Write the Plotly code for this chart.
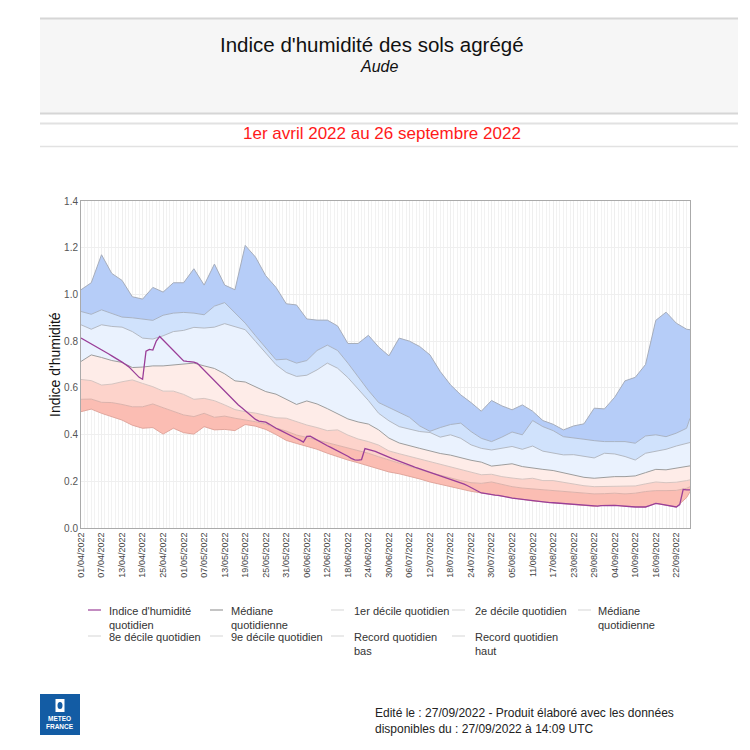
import pandas as pd
import plotly.graph_objects as go

# ---------------- DATA ----------------
# band series sampled every 3 days from 01/04/2022 (+ 26/09/2022)
dates3 = list(pd.date_range("2022-04-01", "2022-09-25", freq="3D")) + [pd.Timestamp("2022-09-26")]
daily = list(pd.date_range("2022-04-01", "2022-09-26", freq="D"))

record_haut = [1.02,1.05,1.17,1.09,1.06,0.99,0.98,1.03,1.01,1.05,
               1.05,1.11,1.04,1.13,1.04,1.02,1.21,1.16,1.08,1.03,
               0.96,0.955,0.895,0.89,0.89,0.865,0.79,0.79,0.825,0.775,
               0.737,0.813,0.80,0.777,0.741,0.67,0.613,0.57,0.537,0.50,
               0.546,0.523,0.506,0.527,0.50,0.46,0.444,0.42,0.437,0.446,
               0.513,0.51,0.56,0.63,0.645,0.70,0.889,0.924,0.877,0.851,
               0.849]
decile9 = [0.927,0.915,0.934,0.917,0.903,0.90,0.894,0.889,0.911,0.92,
           0.923,0.92,0.913,0.95,0.965,0.92,0.877,0.823,0.77,0.72,
           0.723,0.706,0.717,0.76,0.783,0.76,0.706,0.646,0.589,0.537,
           0.517,0.497,0.474,0.437,0.414,0.43,0.443,0.449,0.413,0.384,
           0.37,0.389,0.411,0.399,0.46,0.434,0.417,0.391,0.384,0.38,
           0.374,0.37,0.37,0.37,0.363,0.394,0.399,0.391,0.406,0.427,
           0.47]
decile8 = [0.87,0.851,0.87,0.863,0.86,0.841,0.813,0.809,0.823,0.841,
           0.846,0.859,0.856,0.86,0.875,0.863,0.849,0.799,0.749,0.699,
           0.666,0.649,0.654,0.677,0.706,0.684,0.644,0.594,0.546,0.491,
           0.459,0.434,0.423,0.413,0.409,0.389,0.399,0.384,0.356,0.341,
           0.334,0.341,0.349,0.337,0.351,0.329,0.32,0.313,0.314,0.306,
           0.30,0.32,0.317,0.306,0.291,0.32,0.327,0.337,0.351,0.363,
           0.366]
mediane = [0.713,0.741,0.73,0.717,0.709,0.687,0.689,0.694,0.694,0.699,
           0.701,0.706,0.694,0.683,0.66,0.63,0.625,0.605,0.584,0.573,
           0.552,0.529,0.544,0.531,0.511,0.488,0.467,0.454,0.445,0.42,
           0.385,0.364,0.351,0.341,0.33,0.319,0.312,0.30,0.29,0.282,
           0.265,0.27,0.275,0.263,0.256,0.251,0.246,0.237,0.229,0.217,
           0.213,0.217,0.22,0.22,0.223,0.237,0.251,0.249,0.256,0.263,
           0.266]
decile2 = [0.636,0.631,0.612,0.616,0.626,0.634,0.619,0.605,0.586,0.586,
           0.572,0.551,0.555,0.545,0.527,0.507,0.498,0.492,0.482,0.472,
           0.47,0.455,0.441,0.43,0.417,0.42,0.398,0.381,0.37,0.355,
           0.33,0.318,0.307,0.295,0.283,0.272,0.262,0.252,0.238,0.228,
           0.23,0.22,0.214,0.209,0.213,0.203,0.203,0.196,0.187,0.181,
           0.177,0.177,0.18,0.18,0.18,0.189,0.197,0.194,0.196,0.203,
           0.206]
decile1 = [0.551,0.552,0.538,0.537,0.529,0.519,0.519,0.531,0.515,0.501,
           0.484,0.477,0.491,0.474,0.479,0.47,0.463,0.455,0.445,0.428,
           0.415,0.398,0.388,0.377,0.364,0.354,0.341,0.33,0.32,0.305,
           0.291,0.277,0.263,0.251,0.237,0.226,0.214,0.203,0.194,0.191,
           0.197,0.186,0.177,0.171,0.167,0.164,0.16,0.156,0.151,0.149,
           0.146,0.147,0.149,0.146,0.149,0.156,0.16,0.16,0.161,0.17,
           0.177]
record_bas = [0.498,0.509,0.491,0.477,0.462,0.44,0.427,0.43,0.402,0.427,
              0.408,0.402,0.434,0.42,0.422,0.417,0.443,0.436,0.422,0.40,
              0.375,0.362,0.35,0.337,0.32,0.305,0.291,0.279,0.266,0.252,
              0.24,0.232,0.222,0.21,0.197,0.188,0.176,0.167,0.157,0.15,
              0.143,0.138,0.128,0.122,0.116,0.112,0.108,0.104,0.10,0.096,
              0.093,0.097,0.097,0.093,0.09,0.09,0.105,0.098,0.09,0.13,
              0.155]
# daily soil wetness index
indice = [0.813,0.805,0.797,0.788,0.78,0.772,0.764,0.755,0.746,0.737,
          0.729,0.72,0.71,0.70,0.69,0.675,0.66,0.645,0.637,0.757,
          0.765,0.762,0.80,0.82,0.805,0.79,0.775,0.76,0.745,0.73,
          0.715,0.713,0.713,0.71,0.705,0.69,0.675,0.66,0.645,0.63,
          0.614,0.60,0.585,0.568,0.555,0.54,0.527,0.515,0.503,0.491,
          0.478,0.465,0.458,0.456,0.453,0.445,0.435,0.427,0.42,0.412,
          0.405,0.398,0.39,0.383,0.376,0.368,0.392,0.393,0.385,0.376,
          0.368,0.36,0.352,0.345,0.338,0.33,0.322,0.315,0.307,0.298,
          0.292,0.291,0.293,0.34,0.337,0.333,0.328,0.322,0.315,0.308,
          0.302,0.297,0.292,0.287,0.282,0.276,0.27,0.264,0.258,0.253,
          0.248,0.242,0.237,0.232,0.228,0.223,0.218,0.213,0.209,0.204,
          0.20,0.194,0.188,0.181,0.174,0.166,0.158,0.15,0.148,0.145,
          0.143,0.141,0.14,0.138,0.135,0.131,0.128,0.126,0.124,0.122,
          0.12,0.118,0.116,0.115,0.113,0.112,0.111,0.109,0.108,0.107,
          0.105,0.104,0.103,0.101,0.10,0.099,0.097,0.096,0.095,0.094,
          0.093,0.094,0.096,0.097,0.097,0.097,0.097,0.096,0.094,0.093,
          0.092,0.091,0.09,0.09,0.09,0.09,0.095,0.10,0.105,0.103,
          0.10,0.098,0.095,0.092,0.09,0.10,0.165,0.163,0.163]

tick_labels = ["01/04/2022","07/04/2022","13/04/2022","19/04/2022","25/04/2022",
               "01/05/2022","07/05/2022","13/05/2022","19/05/2022","25/05/2022",
               "31/05/2022","06/06/2022","12/06/2022","18/06/2022","24/06/2022",
               "30/06/2022","06/07/2022","12/07/2022","18/07/2022","24/07/2022",
               "30/07/2022","05/08/2022","11/08/2022","17/08/2022","23/08/2022",
               "29/08/2022","04/09/2022","10/09/2022","16/09/2022","22/09/2022"]
tick_vals = list(pd.to_datetime(tick_labels, format="%d/%m/%Y"))

legend_labels = ["Indice d'humidité<br>quotidien", "Médiane<br>quotidienne",
                 "1er décile quotidien", "2e décile quotidien", "Médiane<br>quotidienne",
                 "8e décile quotidien", "9e décile quotidien",
                 "Record quotidien<br>bas", "Record quotidien<br>haut"]

# ---------------- STYLE ----------------
FONT = "Liberation Sans, Arial, sans-serif"
PURPLE = "#9a3e98"
OFF = 8  # page body margin
FIG = 742
L, R, T, B = 81, 690, 201, 528  # plot area in page pixels
W, H = R - L, B - T


def px(x):
    return (x - L) / W


def py(y):
    return (B - y) / H


fig = go.Figure()

bands = [
    (record_bas, "rgba(222,160,150,0.9)", None),
    (decile1, "#dcb2ab", "#fbbdb3"),
    (decile2, "#d6c4c0", "#fdd3cb"),
    (mediane, "#9d9d9d", "#feece8"),
    (decile8, "#b3b9c3", "#eaf2fe"),
    (decile9, "#a9b3c4", "#d0e2fc"),
    (record_haut, "#a6adbb", "#b6cdf8"),
]
for vals, lc, fc in bands:
    fig.add_trace(go.Scatter(
        x=dates3, y=vals, mode="lines",
        line=dict(color=lc, width=1),
        fill="tonexty" if fc else None,
        fillcolor=fc, showlegend=False, hoverinfo="skip"))

fig.add_trace(go.Scatter(x=daily, y=indice, mode="lines",
                         line=dict(color=PURPLE, width=1.3),
                         showlegend=False, hoverinfo="skip"))

# ---------------- DECORATIONS ----------------
shapes = []
ann = []
# header box
shapes.append(dict(type="rect", xref="paper", yref="paper", x0=px(40), x1=px(738),
                   y0=py(113), y1=py(18), fillcolor="#f6f6f6", line=dict(width=0), layer="below"))
for yy, col, wd in [(18.5, "#d6d6d6", 2), (113.5, "#d6d6d6", 2), (123.5, "#e2e2e2", 2), (146.5, "#e2e2e2", 1.5)]:
    shapes.append(dict(type="line", xref="paper", yref="paper", x0=px(40), x1=px(738),
                       y0=py(yy), y1=py(yy), line=dict(color=col, width=wd)))

ann.append(dict(text="Indice d'humidité des sols agrégé", x=px(372), y=py(44), xref="paper", yref="paper",
                showarrow=False, font=dict(family=FONT, size=20.5, color="#111"), xanchor="center", yanchor="middle"))
ann.append(dict(text="<i>Aude</i>", x=px(379), y=py(67), xref="paper", yref="paper",
                showarrow=False, font=dict(family=FONT, size=16, color="#111"), xanchor="center", yanchor="middle"))
ann.append(dict(text="1er avril 2022 au 26 septembre 2022", x=px(382), y=py(134), xref="paper", yref="paper",
                showarrow=False, font=dict(family=FONT, size=17, color="#ff1a1a"), xanchor="center", yanchor="middle"))
ann.append(dict(text="Indice d'humidité", x=px(55), y=py(365), xref="paper", yref="paper", textangle=-90,
                showarrow=False, font=dict(family=FONT, size=14, color="#111"), xanchor="center", yanchor="middle"))

# legend (manual)
leg_colors = [PURPLE, "#9d9d9d"] + ["#dcdcdc"] * 7
col_line_x = [88, 210, 331, 452, 578]
col_text_x = [107, 229, 352, 473, 596]
row_y = [610, 636]
for i, (lab, c) in enumerate(zip(legend_labels, leg_colors)):
    r, k = divmod(i, 5)
    yy = row_y[r]
    shapes.append(dict(type="line", xref="paper", yref="paper",
                       x0=px(col_line_x[k]), x1=px(col_line_x[k] + 13), y0=py(yy), y1=py(yy),
                       line=dict(color=c, width=1.2)))
    ann.append(dict(text=lab, x=px(col_text_x[k]), y=py(yy - 7), xref="paper", yref="paper",
                    showarrow=False, align="left", xanchor="left", yanchor="top",
                    font=dict(family=FONT, size=11, color="#333")))

# footer
shapes.append(dict(type="rect", xref="paper", yref="paper", x0=px(40), x1=px(80),
                   y0=py(735), y1=py(694), fillcolor="#135ca4", line=dict(width=0)))
shapes.append(dict(type="rect", xref="paper", yref="paper", x0=px(55.5), x1=px(64.5),
                   y0=py(712), y1=py(699), fillcolor="white", line=dict(width=0)))
shapes.append(dict(type="circle", xref="paper", yref="paper", x0=px(57.5), x1=px(62.5),
                   y0=py(709), y1=py(702), fillcolor="#135ca4", line=dict(width=0)))
ann.append(dict(text="<b>METEO<br>FRANCE</b>", x=px(60), y=py(722), xref="paper", yref="paper",
                showarrow=False, font=dict(family=FONT, size=6.5, color="white"), xanchor="center", yanchor="middle"))
ann.append(dict(text="Edité le : 27/09/2022 - Produit élaboré avec les données<br>disponibles du : 27/09/2022 à 14:09 UTC",
                x=px(373), y=py(704), xref="paper", yref="paper", showarrow=False, align="left",
                xanchor="left", yanchor="top", font=dict(family=FONT, size=12, color="#222")))

fig.update_layout(
    width=FIG, height=FIG, autosize=False,
    margin=dict(l=L - OFF, r=FIG - (R - OFF), t=T - OFF, b=FIG - (B - OFF), pad=0),
    paper_bgcolor="white", plot_bgcolor="white",
    font=dict(family=FONT),
    shapes=shapes, annotations=ann, showlegend=False,
    xaxis=dict(type="date", range=["2022-04-01", "2022-09-26"],
               tickmode="array", tickvals=tick_vals, ticktext=tick_labels,
               tickangle=-90, tickfont=dict(family=FONT, size=9, color="#444"),
               showgrid=True, gridcolor="#eeeeee", gridwidth=1,
               minor=dict(tickmode="linear", tick0="2022-04-01", dtick=86400000,
                          showgrid=True, gridcolor="#f2f2f2", gridwidth=1),
               showline=True, linecolor="#aaaaaa", linewidth=1, mirror=True,
               zeroline=False, ticks=""),
    yaxis=dict(range=[0, 1.4], dtick=0.2, tickformat=".1f",
               tickfont=dict(family=FONT, size=10, color="#555"),
               showgrid=True, gridcolor="#efefef", gridwidth=1,
               showline=True, linecolor="#aaaaaa", linewidth=1, mirror=True,
               zeroline=False, ticks=""),
)

fig.write_html("out.html")
